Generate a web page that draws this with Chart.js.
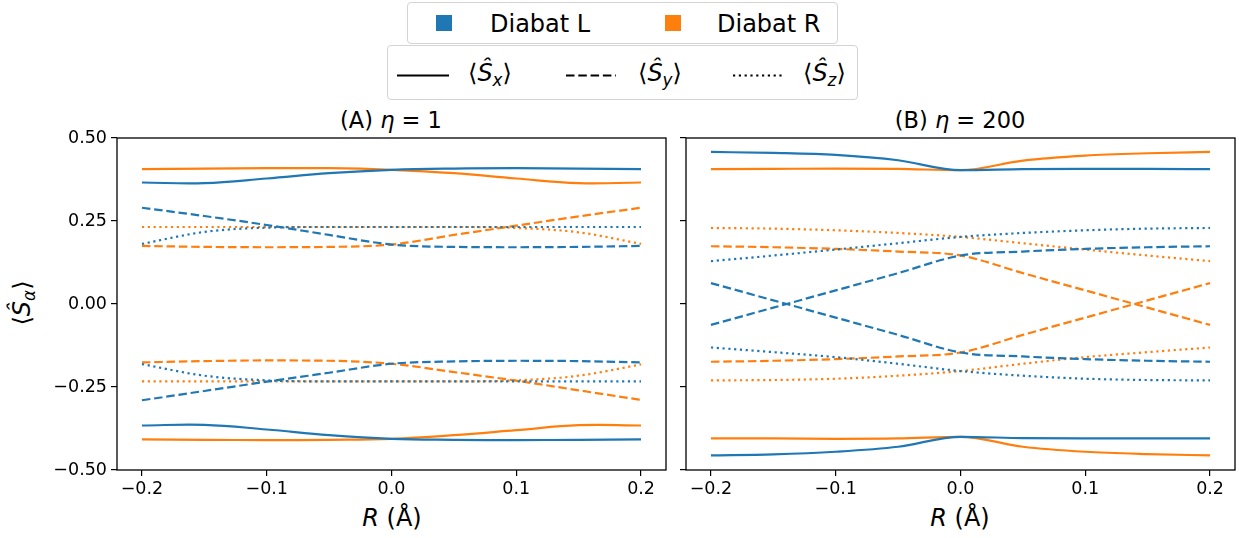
<!DOCTYPE html>
<html>
<head>
<meta charset="utf-8">
<script src="https://cdn.jsdelivr.net/npm/chart.js@4.4.1/dist/chart.umd.min.js"></script>
<style>
  html, body { margin:0; padding:0; background:#fff; }
  body { width:1239px; height:538px; position:relative; overflow:hidden; font-family:"DejaVu Sans", sans-serif; color:#000; }
  .abs { position:absolute; white-space:nowrap; }
  .box { position:absolute; border:1px solid #d4d4d4; border-radius:4px; background:#fff; box-sizing:border-box; }
  .lt { position:absolute; font-size:24px; line-height:24px; white-space:nowrap; }
  .sw { position:absolute; width:16px; height:16px; }
  i { font-style:oblique; }
  sub { font-size:70%; vertical-align:-0.3em; line-height:0; }
  canvas { position:absolute; }
</style>
</head>
<body>
<script>
// ---------- data ----------
const R = [-0.2, -0.15, -0.1, -0.05, 0, 0.05, 0.1, 0.15, 0.2];
const xTicks = [-0.2, -0.1, 0.0, 0.1, 0.2];
const yTicks = [-0.5, -0.25, 0, 0.25, 0.5];

// Panel A (eta = 1)
const A_L_Sx_up = [0.366, 0.364, 0.378, 0.394, 0.404, 0.408, 0.409, 0.408, 0.406];
const A_R_Sx_up = [0.406, 0.408, 0.409, 0.409, 0.404, 0.394, 0.378, 0.364, 0.366];
const A_L_Sy_up = [0.290, 0.265, 0.238, 0.208, 0.179, 0.172, 0.171, 0.172, 0.175];
const A_R_Sy_up = [0.175, 0.172, 0.171, 0.172, 0.179, 0.208, 0.236, 0.264, 0.290];
const A_L_Sz_up = [0.181, 0.217, 0.230, 0.232, 0.232, 0.232, 0.232, 0.232, 0.232];
const A_R_Sz_up = [0.232, 0.232, 0.232, 0.232, 0.232, 0.232, 0.229, 0.216, 0.181];
const A_L_Sx_dn = [-0.366, -0.364, -0.378, -0.395, -0.406, -0.409, -0.410, -0.409, -0.408];
const A_R_Sx_dn = [-0.408, -0.409, -0.410, -0.409, -0.406, -0.395, -0.380, -0.365, -0.366];
const A_L_Sy_dn = [-0.290, -0.262, -0.234, -0.207, -0.180, -0.173, -0.171, -0.172, -0.176];
const A_R_Sy_dn = [-0.176, -0.172, -0.170, -0.171, -0.180, -0.205, -0.231, -0.260, -0.289];
const A_L_Sz_dn = [-0.181, -0.216, -0.230, -0.233, -0.233, -0.233, -0.233, -0.233, -0.233];
const A_R_Sz_dn = [-0.233, -0.233, -0.233, -0.233, -0.233, -0.233, -0.230, -0.216, -0.182];

// Panel B (eta = 200)
const B_L_Sx_up = [0.458, 0.455, 0.449, 0.433, 0.403, 0.406, 0.407, 0.407, 0.406];
const B_R_Sx_up = [0.406, 0.407, 0.408, 0.407, 0.403, 0.432, 0.447, 0.454, 0.458];
const B_L_Sy_up = [0.063, 0.011, -0.041, -0.093, -0.146, -0.158, -0.166, -0.171, -0.174];
const B_R_Sy_up = [0.174, 0.171, 0.166, 0.158, 0.146, 0.093, 0.041, -0.011, -0.063];
const B_L_Sz_up = [0.129, 0.146, 0.164, 0.183, 0.202, 0.214, 0.222, 0.227, 0.229];
const B_R_Sz_up = [0.229, 0.227, 0.222, 0.214, 0.202, 0.183, 0.164, 0.146, 0.129];
const B_L_Sx_dn = [-0.456, -0.453, -0.445, -0.430, -0.400, -0.404, -0.405, -0.405, -0.405];
const B_R_Sx_dn = [-0.405, -0.405, -0.406, -0.405, -0.400, -0.430, -0.445, -0.452, -0.456];
const B_L_Sy_dn = [-0.063, -0.011, 0.041, 0.093, 0.146, 0.158, 0.166, 0.171, 0.174];
const B_R_Sy_dn = [-0.174, -0.171, -0.166, -0.158, -0.146, -0.093, -0.041, 0.011, 0.063];
const B_L_Sz_dn = [-0.131, -0.145, -0.160, -0.180, -0.202, -0.216, -0.225, -0.229, -0.230];
const B_R_Sz_dn = [-0.230, -0.229, -0.225, -0.216, -0.202, -0.180, -0.160, -0.145, -0.131];

const BLUE = '#1f77b4', ORANGE = '#ff7f0e';
const DASH = { x: [], y: [8.5, 3.8], z: [2.2, 3.6] };
</script>

<!-- legends -->
<div class="box" style="left:407px; top:2px; width:431px; height:42px;">
  <div class="sw" style="left:28px; top:12px; background:#1f77b4;"></div>
  <div class="lt" style="left:82px; top:9px;">Diabat L</div>
  <div class="sw" style="left:257px; top:12px; background:#ff7f0e;"></div>
  <div class="lt" style="left:309px; top:9px;">Diabat R</div>
</div>
<div class="box" style="left:387px; top:45px; width:471px; height:55px;">
  <svg class="abs" style="left:0; top:0;" width="471" height="55">
    <line x1="9" y1="29.5" x2="61" y2="29.5" stroke="#000" stroke-width="2.2"/>
    <line x1="178" y1="29.5" x2="228" y2="29.5" stroke="#000" stroke-width="2.2" stroke-dasharray="8.5 3.8"/>
    <line x1="345" y1="29.5" x2="396" y2="29.5" stroke="#000" stroke-width="2.2" stroke-dasharray="2.2 3.6"/>
  </svg>
  <div class="lt" style="left:80px; top:15px;">⟨<i>Ŝ</i><sub><i>x</i></sub>⟩</div>
  <div class="lt" style="left:250px; top:15px;">⟨<i>Ŝ</i><sub><i>y</i></sub>⟩</div>
  <div class="lt" style="left:415px; top:15px;">⟨<i>Ŝ</i><sub><i>z</i></sub>⟩</div>
</div>

<!-- titles and axis labels -->
<div class="abs" style="left:391px; top:108px; transform:translateX(-50%); font-size:22.5px; line-height:25px;">(A) <i>η</i> = 1</div>
<div class="abs" style="left:960px; top:108px; transform:translateX(-50%); font-size:22.5px; line-height:25px;">(B) <i>η</i> = 200</div>
<div class="abs" style="left:392px; top:504px; transform:translateX(-50%); font-size:24px; line-height:28px;"><i>R</i> (Å)</div>
<div class="abs" style="left:960px; top:504px; transform:translateX(-50%); font-size:24px; line-height:28px;"><i>R</i> (Å)</div>
<div class="abs" style="left:22px; top:303px; transform:translate(-50%,-50%) rotate(-90deg); font-size:24px; line-height:28px;">⟨<i>Ŝ</i><sub><i>α</i></sub>⟩</div>

<canvas id="cA" width="680" height="420" style="left:0px; top:100px;"></canvas>
<canvas id="cB" width="559" height="420" style="left:680px; top:100px;"></canvas>

<script>
function pts(arr) { return R.map((x, i) => ({ x: x, y: arr[i] })); }
function ds(arr, color, comp, smooth) {
  const d = { data: pts(arr), borderColor: color, backgroundColor: color, borderWidth: 2.2,
              borderDash: DASH[comp], pointRadius: 0, fill: false, borderCapStyle: 'butt' };
  if (smooth) { d.tension = 0.4; } else { d.cubicInterpolationMode = 'monotone'; }
  return d;
}
const frame = {
  id: 'frame',
  afterDatasetsDraw(chart) {
    const a = chart.chartArea, c = chart.ctx;
    c.save(); c.strokeStyle = '#000'; c.lineWidth = 1.3;
    c.strokeRect(a.left, a.top, a.right - a.left, a.bottom - a.top);
    c.restore();
  }
};
const fmtMinus = s => s.replace('-', '\u2212');
function makeChart(id, datasets, showY, yWidth, padRight) {
  return new Chart(document.getElementById(id), {
    type: 'line',
    data: { datasets: datasets },
    options: {
      responsive: false, animation: false, events: [],
      layout: { padding: { top: 38, right: padRight, left: 0, bottom: 0 } },
      plugins: { legend: { display: false }, tooltip: { enabled: false } },
      scales: {
        x: {
          type: 'linear', min: -0.22, max: 0.22,
          afterBuildTicks: s => { s.ticks = xTicks.map(v => ({ value: v })); },
          afterFit: s => { s.height = 50; },
          grid: { drawOnChartArea: false, drawTicks: true, tickLength: 6, color: '#000', lineWidth: 1.2 },
          border: { display: false },
          ticks: { color: '#000', padding: 3, maxRotation: 0, font: { family: 'DejaVu Sans', size: 17.5 },
                   callback: v => fmtMinus(v.toFixed(1)) }
        },
        y: {
          type: 'linear', min: -0.5, max: 0.5,
          afterBuildTicks: s => { s.ticks = yTicks.map(v => ({ value: v })); },
          afterFit: s => { s.width = yWidth; },
          grid: { drawOnChartArea: false, drawTicks: true, tickLength: 6, color: '#000', lineWidth: 1.2 },
          border: { display: false },
          ticks: { display: showY, color: '#000', padding: 4, font: { family: 'DejaVu Sans', size: 17.5 },
                   callback: v => fmtMinus(v.toFixed(2)) }
        }
      }
    },
    plugins: [frame]
  });
}
const dsA = [
  ds(A_L_Sx_up, BLUE, 'x', true), ds(A_L_Sy_up, BLUE, 'y', false), ds(A_L_Sz_up, BLUE, 'z', false),
  ds(A_L_Sx_dn, BLUE, 'x', true), ds(A_L_Sy_dn, BLUE, 'y', false), ds(A_L_Sz_dn, BLUE, 'z', false),
  ds(A_R_Sx_up, ORANGE, 'x', true), ds(A_R_Sy_up, ORANGE, 'y', false), ds(A_R_Sz_up, ORANGE, 'z', false),
  ds(A_R_Sx_dn, ORANGE, 'x', true), ds(A_R_Sy_dn, ORANGE, 'y', false), ds(A_R_Sz_dn, ORANGE, 'z', false)
];
const dsB = [
  ds(B_L_Sx_up, BLUE, 'x', false), ds(B_L_Sy_up, BLUE, 'y', false), ds(B_L_Sz_up, BLUE, 'z', false),
  ds(B_L_Sx_dn, BLUE, 'x', false), ds(B_L_Sy_dn, BLUE, 'y', false), ds(B_L_Sz_dn, BLUE, 'z', false),
  ds(B_R_Sx_up, ORANGE, 'x', false), ds(B_R_Sy_up, ORANGE, 'y', false), ds(B_R_Sz_up, ORANGE, 'z', false),
  ds(B_R_Sx_dn, ORANGE, 'x', false), ds(B_R_Sy_dn, ORANGE, 'y', false), ds(B_R_Sz_dn, ORANGE, 'z', false)
];
makeChart('cA', dsA, true, 117, 14);
makeChart('cB', dsB, false, 6, 4);
</script>
</body>
</html>
